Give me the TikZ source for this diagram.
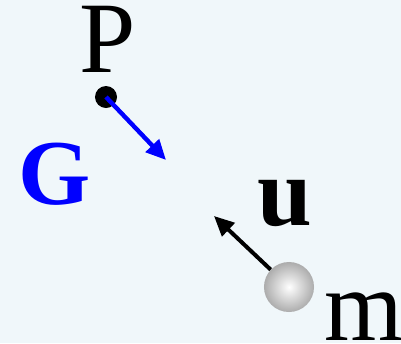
\documentclass[tikz,border=0pt]{standalone}
\usepackage{fontspec}
\setmainfont{Liberation Serif}
\usetikzlibrary{arrows.meta}
\definecolor{bgblue}{HTML}{F0F7FA}
\tikzset{
  dotP/.style={circle,fill=black,inner sep=0pt,minimum size=0.55cm},
  ballm/.style={circle,inner sep=0pt,minimum size=1.25cm,inner color=white,outer color=gray!65},
  vec/.style={line width=0.11cm,-{Triangle[length=0.5cm,width=0.45cm]}},
  lbl/.style={anchor=base,inner sep=0pt,font=\fontsize{72}{72}\selectfont}
}
\begin{document}
\begin{tikzpicture}[x=0.025cm,y=-0.025cm]
\fill[bgblue] (0,0) rectangle (401,343);
\useasboundingbox (0,0) rectangle (401,343);
\node[dotP] (P) at (106,97) {};
\node[lbl] (Plbl) at (108,72) {P};
\coordinate (Gtip) at (166,160);
\draw[vec,blue] (P.center) -- (Gtip);
\node[lbl,blue,font=\fontsize{66}{66}\selectfont\bfseries] (G) at (55,204) {G};
\node[ballm] (m) at (289,287) {};
\coordinate (utip) at (214,216);
\draw[vec,black,line width=0.1cm] (m) -- (utip);
\node[lbl,font=\fontsize{70}{70}\selectfont\bfseries] (u) at (285,225) {u};
\node[lbl] (mlbl) at (364,340) {m};
\end{tikzpicture}
\end{document}
